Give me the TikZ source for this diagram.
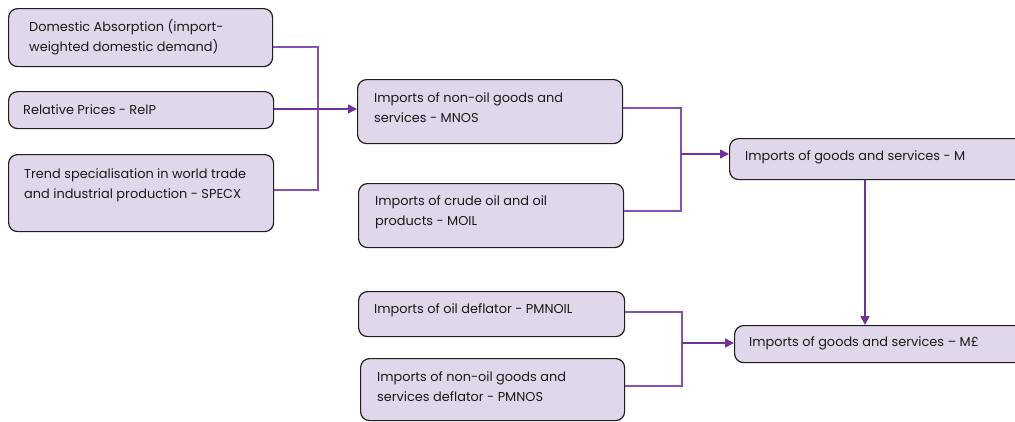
\documentclass[tikz,border=0pt]{standalone}
\usepackage{fontspec}
\setmainfont{Poppins}
\usetikzlibrary{arrows.meta}
\definecolor{boxfill}{HTML}{E1D7EA}
\definecolor{boxline}{HTML}{1E1E1E}
\definecolor{linkline}{HTML}{8452B0}
\definecolor{arrowline}{HTML}{7030A0}
\tikzset{
  box/.style={draw=boxline, line width=1.2pt, fill=boxfill, rounded corners=9pt,
    anchor=north west, inner sep=0pt},
  txt/.style={anchor=west, align=left, inner sep=0pt, font=\fontsize{12.9}{20}\selectfont,
    text=black!90},
  link/.style={draw=linkline, line width=1.3pt},
  feed/.style={draw=arrowline, line width=1.6pt, -{Triangle[length=9pt,width=9pt]}},
}
% a rounded box: name, left, top, width, height
\newcommand{\pbox}[5]{%
  \node[box, minimum width=#4pt, minimum height=#5pt] (#1) at (#2,#3) {};}
\begin{document}
\begin{tikzpicture}[x=1pt,y=-1pt]
\useasboundingbox (0,0) rectangle (1015,421);
\clip (0,0) rectangle (1015,421);
% left inputs
\pbox{absorp}{8}{8}{264}{58}
\pbox{relp}{8}{91}{265}{37}
\pbox{specx}{8}{154}{265}{77}
\node[txt] (absorpT) at (29,37) {Domestic Absorption (import-\\weighted domestic demand)};
\node[txt] (relpT) at (23,110) {Relative Prices - RelP};
\node[txt] (specxT) at (24,185) {Trend specialisation in world trade\\and industrial production - SPECX};
% imports volumes
\pbox{mnos}{357}{79}{265}{64}
\pbox{moil}{358}{183}{265}{64}
\node[txt] (mnosT) at (374,108) {Imports of non-oil goods and\\services - MNOS};
\node[txt] (moilT) at (375,212) {Imports of crude oil and oil\\products - MOIL};
% deflators
\pbox{pmnoil}{358}{291}{266}{45}
\pbox{pmnos}{360}{358}{264}{62}
\node[txt] (pmnoilT) at (374,310) {Imports of oil deflator - PMNOIL};
\node[txt] (pmnosT) at (377,387) {Imports of non-oil goods and\\services deflator - PMNOS};
% totals
\pbox{mtot}{729}{138}{300}{41}
\pbox{mval}{734}{325}{300}{37}
\node[txt] (mtotT) at (745,157) {Imports of goods and services - M};
\node[txt] (mvalT) at (749,343) {Imports of goods and services -- M£};
% connectors
\coordinate (j2) at (681,154);
\coordinate (j3) at (682,343);
\draw[link] (absorp.east |- 0,47) -| (318,190) -- (specx.east |- 0,190);
\draw[feed] (relp.east |- 0,109) -- (mnos.west |- 0,109);
\draw[link] (mnos.east |- 0,108) -| (681,211) -- (moil.east |- 0,211);
\draw[feed] (j2) -- (mtot.west |- j2);
\draw[link] (pmnoil.east |- 0,312) -| (682,386) -- (pmnos.east |- 0,386);
\draw[feed] (j3) -- (mval.west |- j3);
\draw[feed] (mtot.south -| 865,0) -- (mval.north -| 865,0);
\end{tikzpicture}
\end{document}
